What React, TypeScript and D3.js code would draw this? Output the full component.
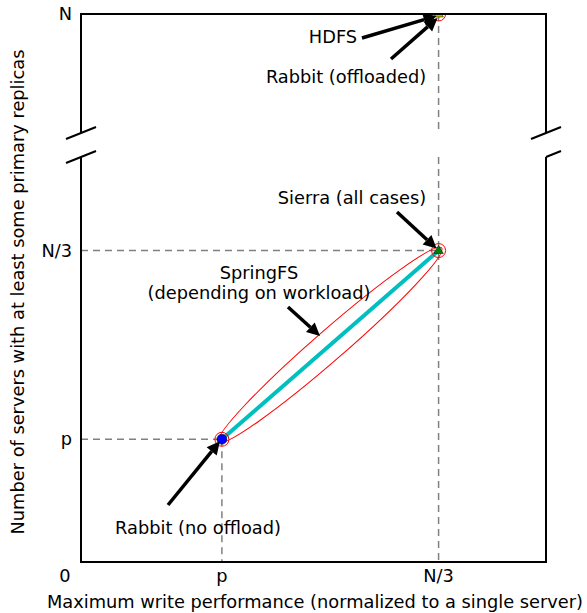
import React from "react";
import * as d3 from "d3";

// symbolic axis values (p, N/3, N)
const P = 30.3;
const N3 = 76.9;
const N = 300;

const xTickLabels = ["p", "N/3"];
const xTickValues = [P, N3];
const yTickLabels = ["p", "N/3"];
const yTickValues = [P, N3];

// systems: [name, x, y, panel, marker]
const systems = [
  { name: "Rabbit (no offload)", x: P, y: P, panel: "low", marker: "circle", color: "#0000ff" },
  { name: "Sierra (all cases)", x: N3, y: N3, panel: "low", marker: "triangle", color: "#008000" },
  { name: "HDFS", x: N3, y: N, panel: "top", marker: "triangle", color: "#bfbf00" },
];

const W = 587;
const H = 613;
const FONT = "DejaVu Sans, sans-serif";
const FS = 17.8;

function Arrow({ x1, y1, x2, y2 }: any) {
  const ang = Math.atan2(y2 - y1, x2 - x1);
  const hl = 13;
  const hw = 6.5;
  const bx = x2 - hl * Math.cos(ang);
  const by = y2 - hl * Math.sin(ang);
  const nx = -Math.sin(ang);
  const ny = Math.cos(ang);
  const pts = [
    [x2, y2],
    [bx + nx * hw, by + ny * hw],
    [bx - nx * hw, by - ny * hw],
  ];
  return (
    <g>
      <line x1={x1} y1={y1} x2={bx} y2={by} stroke="black" strokeWidth={3.5} />
      <polygon points={pts.map((p) => p.join(",")).join(" ")} fill="black" />
    </g>
  );
}

export default function App() {
  const x = d3.scaleLinear().domain([0, 100]).range([81, 546]);
  const yLow = d3.scaleLinear().domain([0, 100]).range([562, 157]);
  const yTop = d3.scaleLinear().domain([270, N]).range([133, 14]);

  const yOf = (s: any) => (s.panel === "low" ? yLow(s.y) : yTop(s.y));

  const rabbit = systems[0];
  const sierra = systems[1];
  const hdfs = systems[2];

  // SpringFS ellipse between Rabbit and Sierra
  const ax = x(rabbit.x), ay = yOf(rabbit);
  const bx = x(sierra.x), by = yOf(sierra);
  const cx = (ax + bx) / 2, cy = (ay + by) / 2;
  const len = Math.hypot(bx - ax, by - ay);
  const rot = (Math.atan2(by - ay, bx - ax) * 180) / Math.PI;

  const tri = (px: number, py: number, s: number) =>
    `${px},${py - s} ${px - s * 0.95},${py + s * 0.6} ${px + s * 0.95},${py + s * 0.6}`;

  const dash = { stroke: "#808080", strokeWidth: 1.5, strokeDasharray: "7,5" };
  const text = { fontFamily: FONT, fontSize: FS, fill: "black" } as any;

  const left = x(0), right = x(100);
  const topB = yTop.range()[0];
  const lowT = yLow.range()[1];

  return (
    <svg width={W} height={H} style={{ position: "absolute", left: 0, top: 0 }}>
      <rect width={W} height={H} fill="white" />
      <defs>
        <clipPath id="clipTop">
          <rect x={left} y={yTop.range()[1]} width={right - left} height={topB - yTop.range()[1]} />
        </clipPath>
      </defs>

      {/* dashed guide lines */}
      <line x1={x(N3)} x2={x(N3)} y1={yTop(N)} y2={topB} {...dash} />
      <line x1={x(N3)} x2={x(N3)} y1={lowT} y2={yLow(0)} {...dash} />
      <line x1={x(P)} x2={x(P)} y1={yLow(P)} y2={yLow(0)} {...dash} />
      <line x1={left} x2={x(P)} y1={yLow(P)} y2={yLow(P)} {...dash} />
      <line x1={left} x2={x(N3)} y1={yLow(N3)} y2={yLow(N3)} {...dash} />

      {/* SpringFS */}
      <ellipse
        cx={cx}
        cy={cy}
        rx={len / 2 + 4}
        ry={15}
        transform={`rotate(${rot},${cx},${cy})`}
        fill="none"
        stroke="#ff0000"
        strokeWidth={1}
      />
      <line x1={ax} y1={ay} x2={bx} y2={by} stroke="#00bfbf" strokeWidth={4} />

      {/* markers */}
      {systems.map((s) => {
        const px = x(s.x);
        const py = yOf(s);
        return (
          <g key={s.name} clipPath={s.panel === "top" ? "url(#clipTop)" : undefined}>
            {s.marker === "circle" ? (
              <circle cx={px} cy={py} r={5} fill={s.color} stroke="black" strokeWidth={0.5} />
            ) : (
              <polygon points={tri(px, py, 5)} fill={s.color} stroke="black" strokeWidth={0.5} />
            )}
            <circle cx={px} cy={py} r={7} fill="none" stroke="#ff0000" strokeWidth={1} />
          </g>
        );
      })}

      {/* axes frame with break */}
      <g stroke="black" strokeWidth={2} fill="none">
        <path d={`M${left},${topB}V${yTop(N)}H${right}V${topB}`} />
        <path d={`M${left},${lowT}V${yLow(0)}H${right}V${lowT}`} />
        <line x1={left - 15} y1={topB + 6} x2={left + 15} y2={topB - 6} />
        <line x1={left - 15} y1={lowT + 6} x2={left + 15} y2={lowT - 6} />
        <line x1={right - 15} y1={topB + 6} x2={right + 15} y2={topB - 6} />
        <line x1={right} y1={lowT} x2={right + 15} y2={lowT - 6} />
      </g>

      {/* tick labels */}
      <text {...text} x={65} y={yLow(0) + 20} textAnchor="middle">0</text>
      {xTickValues.map((v, i) => (
        <text key={"x" + i} {...text} x={x(v)} y={yLow(0) + 20} textAnchor="middle">
          {xTickLabels[i]}
        </text>
      ))}
      {yTickValues.map((v, i) => (
        <text key={"y" + i} {...text} x={72} y={yLow(v) + 6} textAnchor="end">
          {yTickLabels[i]}
        </text>
      ))}
      <text {...text} x={72} y={yTop(N) + 6} textAnchor="end">N</text>

      {/* axis titles */}
      <text {...text} x={315} y={608} textAnchor="middle">
        Maximum write performance (normalized to a single server)
      </text>
      <text {...text} transform={`translate(24,292) rotate(-90)`} textAnchor="middle">
        Number of servers with at least some primary replicas
      </text>

      {/* annotations */}
      <text {...text} x={333} y={43} textAnchor="middle">HDFS</text>
      <Arrow x1={362} y1={38} x2={x(hdfs.x) - 2} y2={yTop(hdfs.y) + 2} />
      <text {...text} x={346} y={83} textAnchor="middle">Rabbit (offloaded)</text>
      <Arrow x1={391} y1={59} x2={x(hdfs.x) - 1} y2={yTop(hdfs.y) + 4} />
      <text {...text} x={352} y={204} textAnchor="middle">Sierra (all cases)</text>
      <Arrow x1={397} y1={212} x2={x(sierra.x) - 2} y2={yLow(sierra.y) - 2} />
      <text {...text} x={259} y={279} textAnchor="middle">SpringFS</text>
      <text {...text} x={259} y={299} textAnchor="middle">(depending on workload)</text>
      <Arrow x1={288} y1={307} x2={320} y2={336} />
      <text {...text} x={198} y={534} textAnchor="middle">Rabbit (no offload)</text>
      <Arrow x1={168} y1={505} x2={x(rabbit.x) - 2} y2={yLow(rabbit.y) + 2} />
    </svg>
  );
}
